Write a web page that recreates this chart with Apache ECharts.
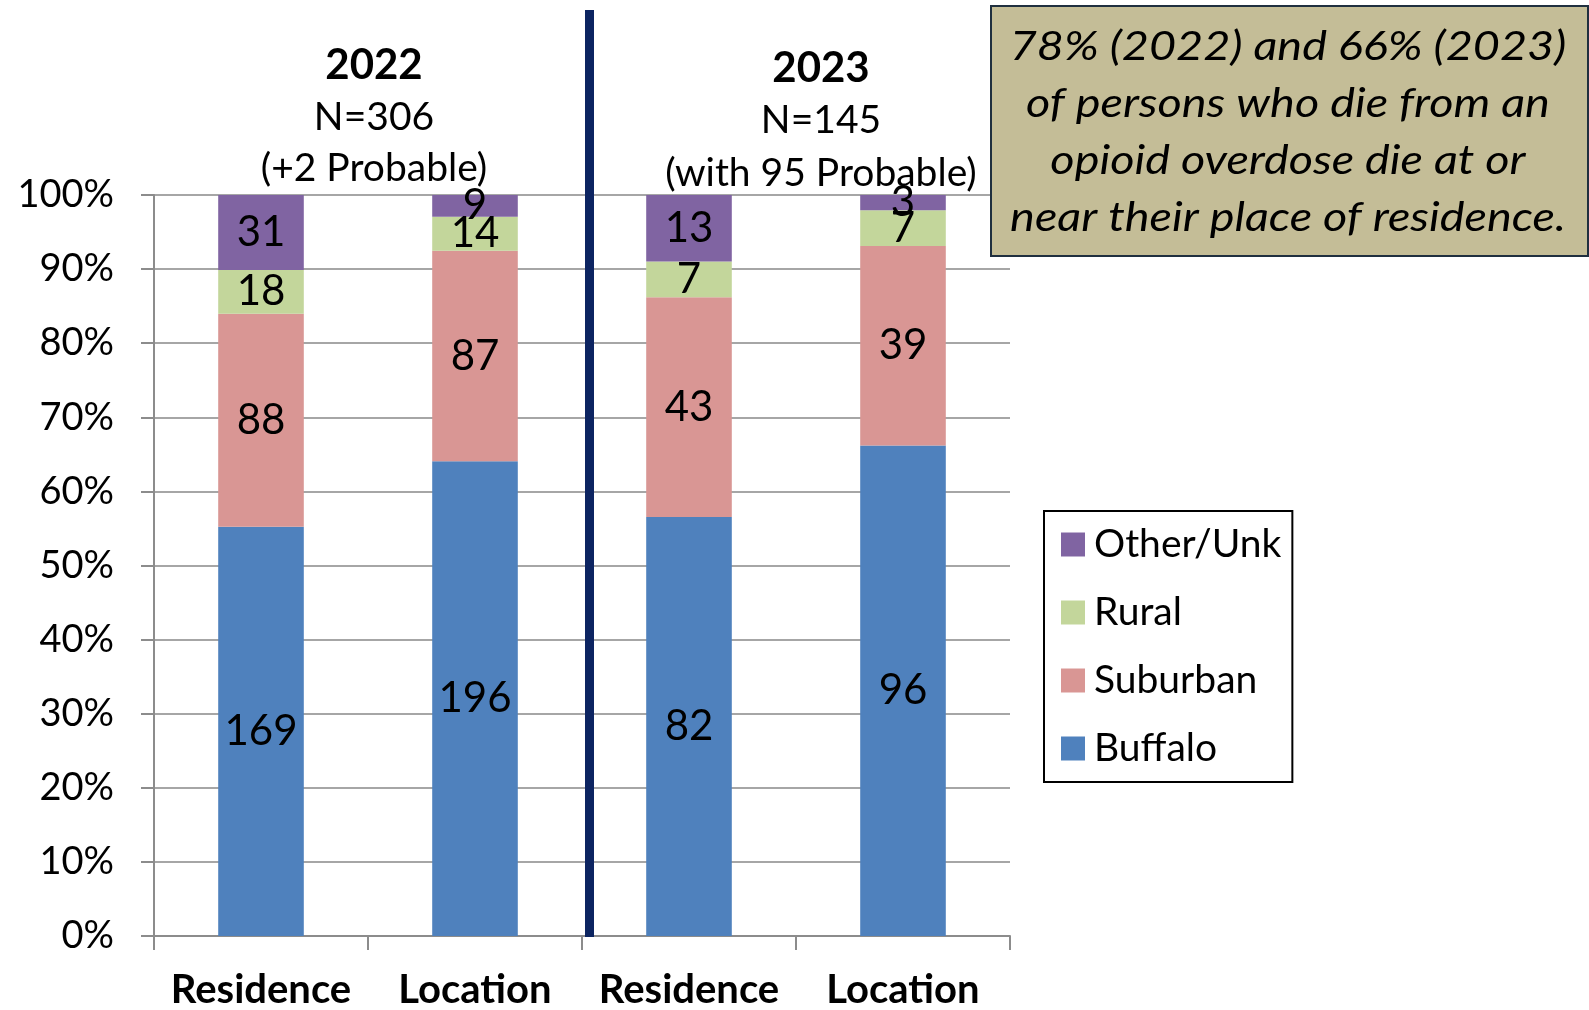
<!DOCTYPE html>
<html><head><meta charset="utf-8">
<script src="https://cdn.jsdelivr.net/npm/echarts@6/dist/echarts.min.js"></script>
<style>html,body{margin:0;padding:0;background:#fff}#c{width:1589px;height:1010px}</style>
</head><body><div id="c"></div>
<script>
const categories = ['Residence', 'Location', 'Residence', 'Location'];
const buffalo = [169, 196, 82, 96];
const suburban = [88, 87, 43, 39];
const rural = [18, 14, 7, 7];
const other = [31, 9, 13, 3];
const seriesNames = ['Buffalo', 'Suburban', 'Rural', 'Other/Unk'];
const seriesColors = ['#4F81BD', '#D99694', '#C3D69B', '#8064A2'];
const yTicks = [0, 10, 20, 30, 40, 50, 60, 70, 80, 90, 100];
const titles2022 = ['2022', 'N=306', '(+2 Probable)'];
const titles2023 = ['2023', 'N=145', '(with 95 Probable)'];
const noteText = '78% (2022) and 66% (2023)\nof persons who die from an\nopioid overdose die at or\nnear their place of residence.';

const counts = [buffalo, suburban, rural, other];
const totals = categories.map((_, i) => counts.reduce((s, arr) => s + arr[i], 0));
const FONT = 'Lato, "Open Sans", sans-serif';

const chart = echarts.init(document.getElementById('c'));
const series = seriesNames.map((name, k) => ({
  name, type: 'bar', stack: 'total', barWidth: '40%',
  itemStyle: { color: seriesColors[k] },
  label: {
    show: true, position: 'inside', color: '#000', fontSize: 42, fontFamily: FONT,
    formatter: p => String(counts[k][p.dataIndex])
  },
  data: counts[k].map((v, i) => v / totals[i] * 100)
}));

function titleLines(lines, cx, ys) {
  return lines.map((t, i) => ({
    text: t, left: cx, top: ys[i], textAlign: 'center',
    textStyle: { fontFamily: FONT, fontSize: i === 0 ? 42 : 39, fontWeight: i === 0 ? 'bold' : 'normal', color: '#000' }
  }));
}

chart.setOption({
  animation: false,
  textStyle: { fontFamily: FONT },
  title: [
    ...titleLines(titles2022, 369, [39, 93, 144]),
    ...titleLines(titles2023, 816, [42, 96, 149])
  ],
  grid: { left: 154, top: 195, width: 856, height: 742, containLabel: false },
  xAxis: {
    type: 'category', data: categories,
    axisLine: { lineStyle: { color: '#8C8C8C', width: 2 } },
    axisTick: { show: true, interval: 0, length: 14, lineStyle: { color: '#8C8C8C', width: 2 } },
    axisLabel: { interval: 0, fontSize: 40, fontWeight: 'bold', color: '#000', margin: 34, fontFamily: FONT }
  },
  yAxis: {
    type: 'value', min: 0, max: 100, interval: 10,
    axisLine: { show: true, lineStyle: { color: '#8C8C8C', width: 2 } },
    axisTick: { show: true, length: 13, lineStyle: { color: '#8C8C8C', width: 2 } },
    splitLine: { show: true, lineStyle: { color: '#A6A6A6', width: 2 } },
    axisLabel: { fontSize: 38, color: '#000', margin: 40, fontFamily: FONT,
      formatter: v => yTicks.includes(v) ? v + '%' : '' }
  },
  legend: {
    orient: 'vertical', left: 1044, top: 511,
    data: ['Other/Unk', 'Rural', 'Suburban', 'Buffalo'],
    icon: 'rect', itemWidth: 24, itemHeight: 24, itemGap: 29,
    padding: [14, 11, 14, 17],
    borderColor: '#000', borderWidth: 2,
    textStyle: { fontSize: 39, color: '#000', lineHeight: 39, fontFamily: FONT, padding: [0, 0, 0, 4] }
  },
  graphic: [
    { type: 'rect', left: 585, top: 10, shape: { width: 9, height: 927 }, style: { fill: '#0C2461' }, z: 10 },
    { type: 'rect', left: 990, top: 5, shape: { width: 597, height: 250 },
      style: { fill: '#C4BD97', stroke: '#1F2F3F', lineWidth: 2 }, z: 10 },
    { type: 'text', x: 1288, y: 19, scaleX: 1.17, z: 11,
      style: { text: noteText, x: 0, y: 0, fill: '#000', font: 'italic 40px ' + FONT, textAlign: 'center', lineHeight: 57 } }
  ],
  series
});
</script></body></html>
